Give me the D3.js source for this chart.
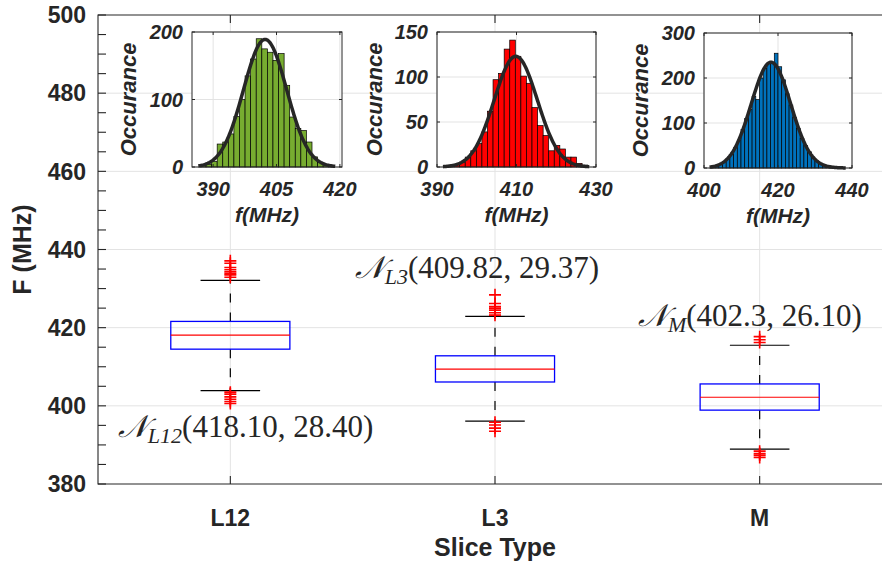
<!DOCTYPE html>
<html>
<head>
<meta charset="utf-8">
<script src="https://cdn.jsdelivr.net/npm/d3@7/dist/d3.min.js"></script>
<style>
  body { margin: 0; background: #fff; }
  svg { display: block; }
  text { fill: #262626; }
</style>
</head>
<body>
<div id="chart-area"></div>
<script>
var w = 882;
var h = 568;

// box plot values (MHz), one entry per slice type
const categories = ["L12", "L3", "M"];
const q1 = [414.5, 406.1, 398.9];
const medians = [418.1, 409.4, 402.2];
const q3 = [421.6, 412.8, 405.6];
const whiskerLow = [403.9, 396.1, 388.9];
const whiskerHigh = [432.1, 422.9, 415.5];
const outliersHigh = [
  [432.9, 433.5, 433.9, 434.3, 434.8, 435.4, 436.5, 437.1],
  [423.2, 423.8, 424.5, 425.0, 425.4, 426.2, 428.4],
  [416.2, 416.9, 417.7]
];
const outliersLow = [
  [403.5, 403.0, 402.3, 401.7, 401.1, 400.6],
  [395.8, 395.1, 394.3, 393.5],
  [388.4, 387.8, 387.4, 386.8]
];

// distribution labels: name subscript, mean, variance
const fitNames = ["L12", "L3", "M"];
const fitText = ["(418.10, 28.40)", "(409.82, 29.37)", "(402.3, 26.10)"];
const labelX = [0.575, 1.47, 2.54];
const labelY = [392.0, 432.6, 420.3];

const yTicks = [380, 400, 420, 440, 460, 480, 500];

// inset histograms (left to right)
const mCounts = [2, 4, 8, 34, 37, 49, 75, 100, 135, 160, 190, 175, 170, 158, 168, 121, 74, 57, 54, 37, 15, 7, 4, 2];
const l3Counts = [2, 3, 5, 11, 18, 26, 39, 62, 97, 104, 131, 141, 123, 101, 93, 66, 46, 35, 18, 24, 20, 11, 11, 4, 2];
const l12Counts = [2, 4, 8, 14, 22, 30, 45, 62, 86, 110, 130, 159, 152, 200, 222, 232, 235, 255, 225, 196, 165, 140, 112, 88, 66, 50, 36, 24, 16, 10, 6, 4, 2, 1, 3];
const binStart = [387.0, 392.9, 402.0];
const binWidth = [1.32, 1.4, 1.0];
const fitMean = [402.3, 409.82, 418.1];
const fitVar = [26.10, 29.37, 28.40];
const fitPeak = [189, 123, 235];
const histX = [[385, 420.5], [390, 430], [400, 440]];
const histXTicks = [[390, 405, 420], [390, 410, 430], [400, 420, 440]];
const histY = [[0, 200], [0, 150], [0, 300]];
const histYTicks = [[0, 100, 200], [0, 50, 100, 150], [0, 100, 200, 300]];
const histColors = ["#77AC30", "#FF0000", "#0072BD"];

var margin = {left: 98, top: 15, bottom: 84};
var axisColor = "#262626";
var gridColor = "#e3e3e3";

var svg = d3.select("#chart-area").append("svg")
    .attr("width", w)
    .attr("height", h)
    .style("font-family", "'Liberation Sans', Arial, Helvetica, sans-serif");

var x = d3.scaleLinear().domain([0.5, 3.5]).range([margin.left, 892]);
var y = d3.scaleLinear().domain([380, 500]).range([h - margin.bottom, margin.top]);

// grid
svg.append("g").selectAll("line.hg")
    .data(yTicks.slice(1, -1))
    .enter().append("line")
    .attr("x1", margin.left).attr("x2", w)
    .attr("y1", d => y(d)).attr("y2", d => y(d))
    .attr("stroke", gridColor).attr("stroke-width", 1);
svg.append("g").selectAll("line.vg")
    .data(categories)
    .enter().append("line")
    .attr("x1", (d, i) => x(i + 1)).attr("x2", (d, i) => x(i + 1))
    .attr("y1", y(500)).attr("y2", y(380))
    .attr("stroke", gridColor).attr("stroke-width", 1);

// box plots
var boxW = 0.45;
var boxes = svg.append("g");
categories.forEach(function(c, i) {
  var cx = x(i + 1);
  var half = x(1 + boxW / 2) - x(1);
  // dashed whiskers
  boxes.append("line")
      .attr("x1", cx).attr("x2", cx)
      .attr("y1", y(q3[i])).attr("y2", y(whiskerHigh[i]))
      .attr("stroke", "#000").attr("stroke-width", 1.2)
      .attr("stroke-dasharray", "9,10");
  boxes.append("line")
      .attr("x1", cx).attr("x2", cx)
      .attr("y1", y(q1[i])).attr("y2", y(whiskerLow[i]))
      .attr("stroke", "#000").attr("stroke-width", 1.2)
      .attr("stroke-dasharray", "9,10");
  [whiskerHigh[i], whiskerLow[i]].forEach(function(v) {
    boxes.append("line")
        .attr("x1", cx - half / 2).attr("x2", cx + half / 2)
        .attr("y1", y(v)).attr("y2", y(v))
        .attr("stroke", "#000").attr("stroke-width", 1.2);
  });
  boxes.append("rect")
      .attr("x", cx - half).attr("width", 2 * half)
      .attr("y", y(q3[i])).attr("height", y(q1[i]) - y(q3[i]))
      .attr("fill", "none").attr("stroke", "#0000FF").attr("stroke-width", 1.3);
  boxes.append("line")
      .attr("x1", cx - half).attr("x2", cx + half)
      .attr("y1", y(medians[i])).attr("y2", y(medians[i]))
      .attr("stroke", "#FF0000").attr("stroke-width", 1.2);
  // outliers as '+'
  outliersHigh[i].concat(outliersLow[i]).forEach(function(v) {
    var py = y(v);
    boxes.append("path")
        .attr("d", "M" + (cx - 6) + "," + py + "H" + (cx + 6) + "M" + cx + "," + (py - 6) + "V" + (py + 6))
        .attr("stroke", "#FF0000").attr("stroke-width", 1.6);
  });
});

// axes frame and ticks
var frame = svg.append("g").attr("stroke", axisColor).attr("stroke-width", 1.1);
frame.append("path")
    .attr("d", "M" + w + "," + y(500) + "H" + margin.left + "V" + y(380) + "H" + w)
    .attr("fill", "none");
d3.range(380, 501, 5).forEach(function(v) {
  frame.append("line")
      .attr("x1", margin.left).attr("x2", margin.left + 8)
      .attr("y1", y(v)).attr("y2", y(v));
});
categories.forEach(function(c, i) {
  frame.append("line")
      .attr("x1", x(i + 1)).attr("x2", x(i + 1))
      .attr("y1", y(380)).attr("y2", y(380) - 8);
  frame.append("line")
      .attr("x1", x(i + 1)).attr("x2", x(i + 1))
      .attr("y1", y(500)).attr("y2", y(500) + 8);
});

svg.append("g").selectAll("text")
    .data(yTicks)
    .enter().append("text")
    .attr("x", margin.left - 12)
    .attr("y", d => y(d))
    .attr("dy", "0.36em")
    .attr("text-anchor", "end")
    .style("font-size", "23px").style("font-weight", "bold")
    .text(d => d);

svg.append("g").selectAll("text")
    .data(categories)
    .enter().append("text")
    .attr("x", (d, i) => x(i + 1))
    .attr("y", 526)
    .attr("text-anchor", "middle")
    .style("font-size", "23px").style("font-weight", "bold")
    .text(d => d);

svg.append("text")
    .attr("x", x(2)).attr("y", 556)
    .attr("text-anchor", "middle")
    .style("font-size", "25px").style("font-weight", "bold")
    .text("Slice Type");

svg.append("text")
    .attr("transform", "translate(31," + ((y(500) + y(380)) / 2) + ") rotate(-90)")
    .attr("text-anchor", "middle")
    .style("font-size", "25px").style("font-weight", "bold")
    .text("F (MHz)");

// distribution annotations
fitNames.forEach(function(n, i) {
  var t = svg.append("text")
      .attr("x", x(labelX[i])).attr("y", y(labelY[i]))
      .style("font-family", "'Liberation Serif', 'DejaVu Serif', serif")
      .style("font-size", "31px");
  t.append("tspan").style("font-style", "italic").text("\uD835\uDCA9");
  t.append("tspan").attr("dy", 6).style("font-size", "22px").style("font-style", "italic").text(n);
  t.append("tspan").attr("dy", -6).text(fitText[i]);
});

// inset histograms
var insetBox = [
  {left: 192, right: 342, top: 32, bottom: 167, ylab: 128},
  {left: 437, right: 596, top: 32, bottom: 167, ylab: 374},
  {left: 704, right: 852, top: 33, bottom: 168, ylab: 640}
];
var allCounts = [mCounts, l3Counts, l12Counts];

insetBox.forEach(function(b, k) {
  var hx = d3.scaleLinear().domain(histX[k]).range([b.left, b.right]);
  var hy = d3.scaleLinear().domain(histY[k]).range([b.bottom, b.top]);
  var g = svg.append("g");

  g.append("rect")
      .attr("x", b.left).attr("y", b.top)
      .attr("width", b.right - b.left).attr("height", b.bottom - b.top)
      .attr("fill", "#fff");

  g.selectAll("line.gx")
      .data(histXTicks[k])
      .enter().append("line")
      .attr("x1", d => hx(d)).attr("x2", d => hx(d))
      .attr("y1", b.top).attr("y2", b.bottom)
      .attr("stroke", gridColor);
  g.selectAll("line.gy")
      .data(histYTicks[k])
      .enter().append("line")
      .attr("x1", b.left).attr("x2", b.right)
      .attr("y1", d => hy(d)).attr("y2", d => hy(d))
      .attr("stroke", gridColor);

  g.selectAll("rect.bar")
      .data(allCounts[k])
      .enter().append("rect")
      .attr("x", (d, i) => hx(binStart[k] + i * binWidth[k]))
      .attr("width", hx(binStart[k] + binWidth[k]) - hx(binStart[k]))
      .attr("y", d => hy(d))
      .attr("height", d => hy(0) - hy(d))
      .attr("fill", histColors[k])
      .attr("stroke", "#000").attr("stroke-width", 0.7);

  var fx = d3.range(histX[k][0] + 1.5, histX[k][1] - 1.5, 0.2);
  var line = d3.line()
      .x(d => hx(d))
      .y(d => hy(fitPeak[k] * Math.exp(-Math.pow(d - fitMean[k], 2) / (2 * fitVar[k]))));
  g.append("path")
      .datum(fx)
      .attr("d", line)
      .attr("fill", "none")
      .attr("stroke", "#262626")
      .attr("stroke-width", 3.5);

  g.append("rect")
      .attr("x", b.left).attr("y", b.top)
      .attr("width", b.right - b.left).attr("height", b.bottom - b.top)
      .attr("fill", "none").attr("stroke", axisColor).attr("stroke-width", 1);
  histXTicks[k].forEach(function(t) {
    g.append("line").attr("x1", hx(t)).attr("x2", hx(t))
        .attr("y1", b.bottom).attr("y2", b.bottom - 3).attr("stroke", axisColor);
    g.append("line").attr("x1", hx(t)).attr("x2", hx(t))
        .attr("y1", b.top).attr("y2", b.top + 3).attr("stroke", axisColor);
  });
  histYTicks[k].forEach(function(t) {
    g.append("line").attr("x1", b.left).attr("x2", b.left + 3)
        .attr("y1", hy(t)).attr("y2", hy(t)).attr("stroke", axisColor);
    g.append("line").attr("x1", b.right).attr("x2", b.right - 3)
        .attr("y1", hy(t)).attr("y2", hy(t)).attr("stroke", axisColor);
  });

  g.selectAll("text.tx")
      .data(histXTicks[k])
      .enter().append("text")
      .attr("x", d => hx(d)).attr("y", b.bottom + 29)
      .attr("text-anchor", "middle")
      .style("font-size", "20px").style("font-weight", "bold").style("font-style", "italic")
      .text(d => d);
  g.selectAll("text.ty")
      .data(histYTicks[k])
      .enter().append("text")
      .attr("x", b.left - 9).attr("y", d => hy(d)).attr("dy", "0.36em")
      .attr("text-anchor", "end")
      .style("font-size", "20px").style("font-weight", "bold").style("font-style", "italic")
      .text(d => d);

  g.append("text")
      .attr("x", (b.left + b.right) / 2).attr("y", b.bottom + 55)
      .attr("text-anchor", "middle")
      .style("font-size", "21px").style("font-weight", "bold").style("font-style", "italic")
      .text("f(MHz)");
  g.append("text")
      .attr("transform", "translate(" + (b.ylab + 8) + "," + ((b.top + b.bottom) / 2) + ") rotate(-90)")
      .attr("text-anchor", "middle")
      .style("font-size", "22px").style("font-weight", "bold").style("font-style", "italic")
      .text("Occurance");
});
</script>
</body>
</html>
